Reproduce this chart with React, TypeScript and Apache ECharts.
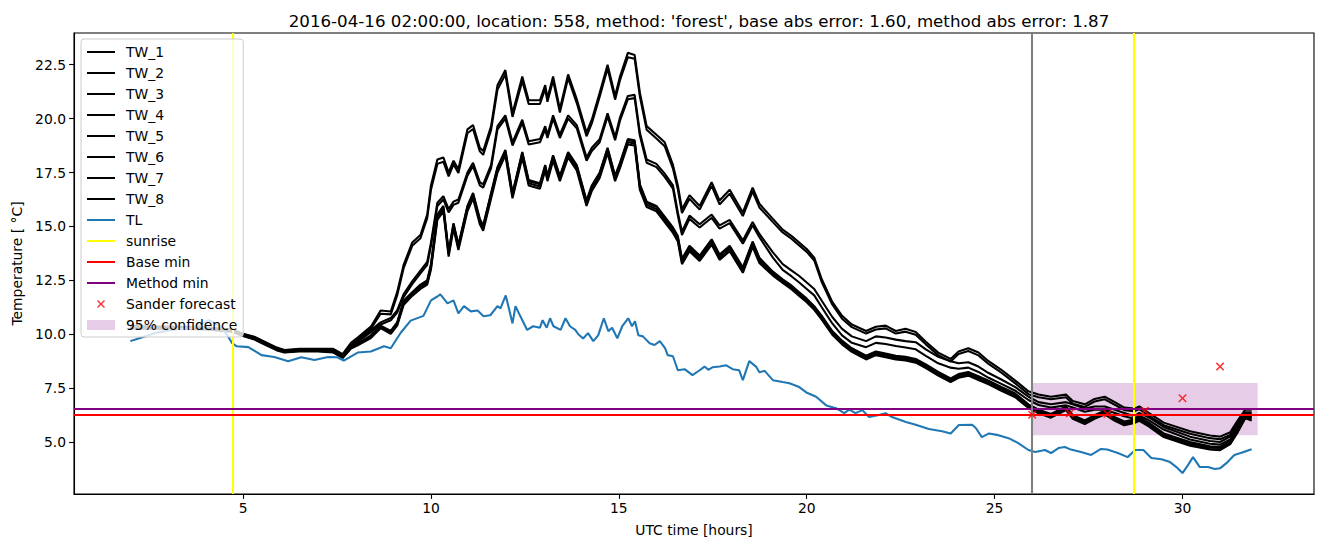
import React, { useEffect, useRef } from "react";
import * as echarts from "echarts";

const twNames = ["TW_1", "TW_2", "TW_3", "TW_4", "TW_5", "TW_6", "TW_7", "TW_8"];

const twTime = [
  2.0, 3.0, 4.0, 4.7, 5.0, 5.3, 5.6, 5.9, 6.1, 6.5,
  7.0, 7.4, 7.65, 7.87, 8.05, 8.4, 8.66, 8.93, 9.1, 9.27,
  9.5, 9.72, 9.9, 10.0, 10.17, 10.33, 10.47, 10.6, 10.73, 10.97,
  11.12, 11.3, 11.39, 11.6, 11.77, 11.98, 12.17, 12.43, 12.6, 12.9,
  13.04, 13.1, 13.25, 13.43, 13.65, 13.88, 14.14, 14.28, 14.49, 14.7,
  14.9, 15.03, 15.24, 15.42, 15.56, 15.74, 16.0, 16.22, 16.44, 16.57,
  16.68, 16.88, 17.15, 17.47, 17.68, 17.95, 18.3, 18.56, 18.74, 19.1,
  19.36, 19.6, 19.8, 20.0, 20.2, 20.4, 20.68, 20.94, 21.2, 21.58,
  21.84, 22.1, 22.37, 22.63, 22.9, 23.17, 23.5, 23.83, 24.04, 24.3,
  24.57, 24.84, 25.18, 25.55, 25.9, 26.17, 26.5, 26.9, 27.08, 27.4,
  27.66, 27.93, 28.2, 28.45, 28.72, 28.85, 29.1, 29.5, 30.2, 30.73,
  31.0, 31.27, 31.45, 31.67, 31.84,
];

const tw1 = [
  10.38, 10.36, 10.32, 10.22, 10.02, 9.88, 9.63, 9.38, 9.27, 9.32,
  9.32, 9.32, 9.08, 9.6, 9.85, 10.35, 11.1, 11.05, 11.95, 13.2,
  14.25, 14.6, 15.55, 16.9, 18.1, 18.2, 17.5, 18.05, 17.65, 19.5,
  19.7, 18.65, 18.5, 19.65, 21.55, 22.25, 20.25, 21.95, 20.85, 20.85,
  21.55, 20.95, 21.95, 20.45, 22.05, 20.9, 19.35, 19.95, 21.2, 22.5,
  21.05, 21.95, 23.05, 22.95, 21.2, 19.65, 19.25, 18.9, 17.85, 16.9,
  15.8, 16.45, 15.95, 17.05, 16.2, 16.7, 15.65, 16.8, 16.05, 15.35,
  14.85, 14.55, 14.25, 13.95, 13.55, 12.55, 11.5, 10.85, 10.45, 10.15,
  10.35, 10.4, 10.15, 10.25, 10.1, 9.65, 9.15, 8.85, 9.2, 9.35,
  9.15, 8.75, 8.35, 7.85, 7.35, 7.2, 7.1, 7.2, 6.9, 6.75,
  7.0, 7.1, 6.85, 6.6, 6.55, 6.65, 6.35, 5.9, 5.5, 5.3,
  5.25, 5.45, 5.95, 6.5, 6.5,
];
const tw2 = [
  10.35, 10.33, 10.3, 10.2, 10.0, 9.85, 9.6, 9.35, 9.24, 9.3,
  9.3, 9.28, 9.04, 9.52, 9.76, 10.25, 10.95, 10.92, 11.8, 13.05,
  14.1, 14.45, 15.38, 16.7, 17.9, 18.0, 17.32, 17.88, 17.48, 19.32,
  19.52, 18.48, 18.32, 19.48, 21.35, 22.05, 20.08, 21.75, 20.68, 20.68,
  21.38, 20.78, 21.78, 20.28, 21.88, 20.72, 19.18, 19.78, 21.02, 22.32,
  20.88, 21.78, 22.85, 22.78, 21.02, 19.48, 19.08, 18.72, 17.68, 16.72,
  15.62, 16.28, 15.78, 16.88, 16.02, 16.52, 15.48, 16.62, 15.88, 15.2,
  14.72, 14.42, 14.12, 13.82, 13.42, 12.42, 11.38, 10.72, 10.33, 10.03,
  10.22, 10.27, 10.03, 10.12, 9.98, 9.53, 9.03, 8.73, 9.08, 9.22,
  9.02, 8.62, 8.22, 7.72, 7.22, 7.08, 6.98, 7.08, 6.78, 6.63,
  6.88, 6.98, 6.73, 6.48, 6.43, 6.53, 6.23, 5.78, 5.38, 5.18,
  5.13, 5.33, 5.83, 6.38, 6.38,
];
const tw3 = [
  10.35, 10.32, 10.3, 10.2, 10.0, 9.85, 9.6, 9.35, 9.22, 9.28,
  9.28, 9.25, 9.0, 9.45, 9.7, 10.18, 10.55, 10.75, 11.1, 11.85,
  12.45, 12.95, 13.35, 14.25, 16.1, 16.4, 15.8, 16.15, 16.25, 17.5,
  17.95, 17.05, 16.95, 17.85, 19.65, 20.15, 18.9, 19.95, 18.95, 19.05,
  19.65, 19.25, 20.15, 19.25, 20.15, 19.7, 18.2, 18.65, 19.05, 20.25,
  19.15, 20.05, 21.05, 21.1, 19.35, 18.1, 17.9, 17.45, 16.9, 15.65,
  14.75, 15.5, 15.1, 15.55, 15.05, 15.3, 14.35, 15.2, 14.65, 13.8,
  13.25, 12.95, 12.7, 12.4, 12.1, 11.55, 10.8, 10.25, 9.9, 9.68,
  9.9, 9.85, 9.75, 9.68, 9.63, 9.3, 8.95, 8.75, 8.65, 8.7,
  8.5, 8.2, 7.9, 7.55, 7.1, 6.85, 6.75, 6.85, 6.75, 6.55,
  6.65, 6.65, 6.5, 6.35, 6.2, 6.35, 6.15, 5.7, 5.25, 5.05,
  5.0, 5.25, 5.75, 6.35, 6.35,
];
const tw4 = [
  10.32, 10.3, 10.27, 10.17, 9.97, 9.82, 9.57, 9.32, 9.2, 9.26,
  9.26, 9.23, 8.98, 9.42, 9.65, 10.1, 10.45, 10.65, 11.0, 11.72,
  12.32, 12.82, 13.22, 14.1, 15.95, 16.25, 15.65, 16.0, 16.1, 17.35,
  17.8, 16.9, 16.8, 17.7, 19.5, 20.0, 18.75, 19.8, 18.8, 18.9,
  19.5, 19.1, 20.0, 19.1, 20.0, 19.55, 18.05, 18.5, 18.9, 20.1,
  19.0, 19.9, 20.9, 20.95, 19.2, 17.95, 17.75, 17.3, 16.75, 15.5,
  14.6, 15.35, 14.95, 15.4, 14.9, 15.15, 14.2, 15.05, 14.5, 13.55,
  12.98, 12.68, 12.4, 12.1, 11.8, 11.25, 10.5, 9.95, 9.6, 9.4,
  9.6, 9.55, 9.45, 9.38, 9.3, 9.0, 8.65, 8.45, 8.4, 8.45,
  8.25, 7.98, 7.7, 7.38, 6.95, 6.72, 6.6, 6.7, 6.6, 6.4,
  6.5, 6.5, 6.35, 6.2, 6.08, 6.22, 6.02, 5.58, 5.12, 4.92,
  4.88, 5.12, 5.62, 6.22, 6.22,
];
const tw5 = [
  10.3, 10.3, 10.26, 10.16, 9.96, 9.8, 9.55, 9.3, 9.2, 9.25,
  9.25, 9.2, 8.95, 9.4, 9.58, 9.95, 10.4, 10.15, 10.55, 11.55,
  11.95, 12.3, 12.5, 13.25, 15.55, 15.95, 13.85, 15.15, 14.15, 15.95,
  16.55, 15.35, 15.05, 16.55, 17.75, 18.55, 16.55, 18.45, 17.15, 17.0,
  17.85, 17.35, 18.3, 17.35, 18.45, 17.85, 16.2, 16.9, 17.5, 18.65,
  17.35, 17.95, 19.05, 19.0, 16.95, 16.15, 15.95, 15.45, 14.95, 14.55,
  13.5, 14.1, 13.65, 14.4, 13.7, 14.1, 13.1, 14.3, 13.55, 12.9,
  12.55, 12.25, 11.95, 11.65, 11.3, 10.85, 10.15, 9.7, 9.35, 9.0,
  9.2, 9.1, 9.0, 8.95, 8.85, 8.6, 8.25, 7.95, 8.15, 8.25,
  8.05, 7.85, 7.55, 7.25, 6.75, 6.5, 6.3, 6.65, 6.25, 6.0,
  6.25, 6.45, 6.15, 5.95, 6.05, 6.15, 5.9, 5.4, 5.0, 4.8,
  4.77, 5.05, 5.55, 6.25, 6.15,
];
const tw6 = [
  10.28, 10.27, 10.24, 10.14, 9.93, 9.78, 9.52, 9.28, 9.17, 9.23,
  9.22, 9.18, 8.92, 9.36, 9.52, 9.88, 10.32, 10.08, 10.45, 11.42,
  11.85, 12.18, 12.38, 13.1, 15.4, 15.8, 13.7, 15.0, 14.0, 15.8,
  16.4, 15.2, 14.9, 16.4, 17.6, 18.4, 16.4, 18.3, 17.0, 16.85,
  17.7, 17.2, 18.15, 17.2, 18.3, 17.7, 16.05, 16.75, 17.35, 18.5,
  17.2, 17.8, 18.9, 18.85, 16.8, 16.0, 15.8, 15.3, 14.8, 14.4,
  13.35, 13.95, 13.5, 14.25, 13.55, 13.95, 12.95, 14.15, 13.4, 12.78,
  12.43, 12.13, 11.83, 11.53, 11.18, 10.73, 10.03, 9.58, 9.23, 8.88,
  9.08, 8.98, 8.88, 8.83, 8.73, 8.48, 8.13, 7.83, 8.03, 8.13,
  7.93, 7.73, 7.43, 7.13, 6.63, 6.38, 6.18, 6.53, 6.13, 5.88,
  6.13, 6.33, 6.03, 5.83, 5.93, 6.03, 5.78, 5.28, 4.88, 4.68,
  4.65, 4.93, 5.43, 6.13, 6.03,
];
const tw7 = [
  10.3, 10.28, 10.25, 10.15, 9.95, 9.8, 9.55, 9.3, 9.19, 9.24,
  9.24, 9.2, 8.94, 9.38, 9.55, 9.9, 10.35, 10.1, 10.5, 11.48,
  11.9, 12.25, 12.45, 13.2, 15.5, 15.9, 13.8, 15.1, 14.1, 15.9,
  16.5, 15.3, 15.0, 16.5, 17.7, 18.5, 16.5, 18.4, 17.1, 16.95,
  17.8, 17.3, 18.25, 17.3, 18.4, 17.8, 16.15, 16.85, 17.45, 18.6,
  17.3, 17.9, 19.0, 18.95, 16.9, 16.1, 15.9, 15.4, 14.9, 14.5,
  13.45, 14.05, 13.6, 14.35, 13.65, 14.05, 13.05, 14.25, 13.5, 12.85,
  12.5, 12.2, 11.9, 11.6, 11.25, 10.8, 10.1, 9.65, 9.3, 8.95,
  9.15, 9.05, 8.95, 8.9, 8.8, 8.55, 8.2, 7.9, 8.1, 8.2,
  8.0, 7.8, 7.5, 7.2, 6.7, 6.45, 6.25, 6.6, 6.2, 5.95,
  6.2, 6.4, 6.1, 5.9, 6.0, 6.1, 5.85, 5.35, 4.95, 4.75,
  4.72, 5.0, 5.5, 6.2, 6.1,
];
const tw8 = [
  10.26, 10.25, 10.22, 10.12, 9.92, 9.76, 9.5, 9.25, 9.15, 9.2,
  9.2, 9.15, 8.9, 9.33, 9.48, 9.82, 10.28, 10.02, 10.4, 11.35,
  11.78, 12.1, 12.3, 13.0, 15.3, 15.7, 13.6, 14.9, 13.9, 15.7,
  16.3, 15.1, 14.8, 16.3, 17.5, 18.3, 16.3, 18.2, 16.9, 16.75,
  17.6, 17.1, 18.05, 17.1, 18.2, 17.6, 15.95, 16.65, 17.25, 18.4,
  17.1, 17.7, 18.8, 18.75, 16.7, 15.9, 15.7, 15.2, 14.7, 14.3,
  13.25, 13.85, 13.4, 14.15, 13.45, 13.85, 12.85, 14.05, 13.3, 12.72,
  12.38, 12.08, 11.78, 11.48, 11.13, 10.68, 9.98, 9.53, 9.18, 8.83,
  9.03, 8.93, 8.83, 8.78, 8.68, 8.43, 8.08, 7.78, 7.98, 8.08,
  7.88, 7.68, 7.38, 7.08, 6.58, 6.33, 6.13, 6.48, 6.08, 5.83,
  6.08, 6.28, 5.98, 5.78, 5.88, 5.98, 5.73, 5.23, 4.83, 4.65,
  4.62, 4.9, 5.4, 6.1, 6.0,
];
const twValues = [tw1, tw2, tw3, tw4, tw5, tw6, tw7, tw8];

const tlTime = [
  2.0, 2.3, 2.65, 3.1, 3.55, 3.85, 4.08, 4.25, 4.43, 4.6,
  4.7, 4.83, 5.14, 5.49, 5.83, 6.2, 6.55, 6.9, 7.26, 7.5,
  7.68, 8.05, 8.4, 8.75, 8.93, 9.2, 9.46, 9.8, 10.0, 10.17,
  10.25, 10.44, 10.6, 10.73, 10.88, 11.06, 11.24, 11.4, 11.58, 11.77,
  11.85, 11.99, 12.17, 12.25, 12.38, 12.56, 12.72, 12.9, 12.97, 13.08,
  13.17, 13.26, 13.45, 13.58, 13.7, 13.84, 13.92, 14.05, 14.18, 14.32,
  14.45, 14.6, 14.72, 14.82, 14.96, 15.09, 15.25, 15.35, 15.43, 15.52,
  15.64, 15.82, 15.95, 16.09, 16.23, 16.3, 16.44, 16.57, 16.75, 16.96,
  17.15, 17.28, 17.38, 17.5, 17.68, 17.86, 18.03, 18.2, 18.3, 18.47,
  18.65, 18.74, 18.88, 19.1, 19.36, 19.54, 19.8, 19.99, 20.25, 20.52,
  20.78, 21.0, 21.13, 21.3, 21.48, 21.66, 21.92, 22.1, 22.27, 22.64,
  22.9, 23.25, 23.6, 23.83, 24.05, 24.4, 24.5, 24.66, 24.85, 25.1,
  25.37, 25.63, 25.9, 26.08, 26.34, 26.5, 26.7, 26.87, 27.03, 27.3,
  27.57, 27.83, 28.0, 28.28, 28.54, 28.74, 28.96, 29.17, 29.44, 29.67,
  29.83, 30.0, 30.15, 30.28, 30.46, 30.68, 30.86, 31.0, 31.2, 31.38,
  31.57, 31.84,
];
const tlTemp = [
  9.68, 9.85, 10.05, 10.2, 10.28, 10.4, 10.65, 10.5, 10.3, 9.9,
  9.6, 9.44, 9.4, 9.03, 8.94, 8.75, 8.93, 8.8, 8.94, 8.93,
  8.78, 9.15, 9.2, 9.44, 9.35, 10.08, 10.63, 10.85, 11.57, 11.75,
  11.85, 11.43, 11.57, 10.97, 11.3, 11.06, 11.1, 10.83, 10.88, 11.3,
  11.2, 11.8, 10.5, 11.3, 10.83, 10.2, 10.37, 10.3, 10.65, 10.3,
  10.74, 10.37, 10.2, 10.74, 10.37, 10.2, 10.0, 9.8, 10.05, 9.68,
  9.95, 10.74, 10.14, 10.3, 9.81, 10.37, 10.74, 10.37, 10.6, 9.95,
  9.9, 9.58, 9.5, 9.68, 9.35, 9.03, 8.98, 8.33, 8.38, 8.1,
  8.33, 8.5, 8.35, 8.47, 8.5, 8.56, 8.38, 8.33, 7.87, 8.75,
  8.5, 8.24, 8.3, 7.87, 7.78, 7.73, 7.55, 7.3, 7.1, 6.7,
  6.57, 6.34, 6.5, 6.34, 6.48, 6.16, 6.25, 6.34, 6.16, 5.93,
  5.8, 5.6, 5.5, 5.4, 5.79, 5.8, 5.65, 5.23, 5.4, 5.32,
  5.18, 4.95, 4.63, 4.54, 4.63, 4.49, 4.72, 4.77, 4.65, 4.54,
  4.4, 4.68, 4.65, 4.49, 4.3, 4.63, 4.63, 4.26, 4.2, 4.07,
  3.85, 3.56, 3.94, 4.3, 3.84, 3.84, 3.75, 3.78, 4.07, 4.4,
  4.5, 4.67,
];

const sanderTime = [26, 27, 28, 29, 30, 31];
const sanderTemp = [6.27, 6.33, 6.3, 6.45, 7.03, 8.5];

const sunriseTimes = [4.73, 28.7];
const forecastStart = 26;
const baseMin = 6.28;
const methodMin = 6.55;
const bandStart = 26;
const bandEnd = 32;
const bandLow = 5.32;
const bandHigh = 7.74;

const xTicks = [5, 10, 15, 20, 25, 30];
const yTicks = [5, 7.5, 10, 12.5, 15, 17.5, 20, 22.5];

const titleText =
  "2016-04-16 02:00:00, location: 558, method: 'forest', base abs error: 1.60, method abs error: 1.87";

const FONT = "DejaVu Sans";
const FS = 13.89;
const LW = 2.08;
const xPath =
  "path://M0,1 L1,0 L4,3 L7,0 L8,1 L5,4 L8,7 L7,8 L4,5 L1,8 L0,7 L3,4 Z";
const CORNERS = "M0,0 L0.01,0 L0,0.01 Z M28,14 L27.99,14 L28,13.99 Z ";
const xLegendIcon =
  "path://" + CORNERS + "M10,4 L11,3 L14,6 L17,3 L18,4 L15,7 L18,10 L17,11 L14,8 L11,11 L10,10 L13,7 Z";
const bandLegendIcon = "path://" + CORNERS + "M0,2 L28,2 L28,12 L0,12 Z";
const lineLegendIcon = "path://" + CORNERS + "M0,6 L28,6 L28,8 L0,8 Z";

export default function App() {
  const ref = useRef<HTMLDivElement>(null);

  useEffect(() => {
    if (!ref.current) return;
    const chart = echarts.init(ref.current, undefined, { renderer: "svg" });

    const twSeries = twNames.map((name, i) => ({
      type: "line",
      name,
      data: twTime.map((t, j) => [t, twValues[i][j]]),
      showSymbol: false,
      symbol: "none",
      color: "#000000",
      lineStyle: { color: "#000000", width: LW },
      z: 3,
      silent: true,
    }));

    const hiddenLine = (name: string, color: string, mark: any, z: number) => ({
      type: "line",
      name,
      data: [],
      symbol: "none",
      color,
      lineStyle: { color, width: LW },
      z,
      silent: true,
      markLine: {
        silent: true,
        symbol: ["none", "none"],
        label: { show: false },
        emphasis: { disabled: true },
        lineStyle: { color, width: LW, type: "solid" },
        data: mark,
      },
    });

    const lineItem = (name: string, color: string) => ({
      name,
      icon: lineLegendIcon,
      itemStyle: { color },
    });

    const option: any = {
      animation: false,
      backgroundColor: "#ffffff",
      textStyle: { fontFamily: FONT },
      title: {
        text: titleText,
        left: 694,
        top: 8,
        textAlign: "center",
        textStyle: { fontFamily: FONT, fontSize: 16.67, fontWeight: "normal", color: "#000" },
      },
      grid: {
        left: 74,
        right: 10,
        top: 33,
        bottom: 53,
        containLabel: false,
        show: true,
        borderColor: "#000",
        borderWidth: 1.1,
        backgroundColor: "transparent",
      },
      legend: {
        orient: "vertical",
        left: 81,
        top: 39,
        z: 20,
        selectedMode: false,
        backgroundColor: "rgba(255,255,255,0.8)",
        borderColor: "#cccccc",
        borderWidth: 1,
        borderRadius: 3,
        padding: [6, 6, 5, 6],
        itemWidth: 28,
        itemHeight: 14,
        itemGap: 7,
        symbolKeepAspect: false,
        textStyle: {
          fontFamily: FONT,
          fontSize: FS,
          color: "#000",
          lineHeight: 14,
          padding: [0, 0, 0, 6],
        },
        data: [
          ...twNames.map((n) => lineItem(n, "#000000")),
          lineItem("TL", "#1f77b4"),
          lineItem("sunrise", "#ffff00"),
          lineItem("Base min", "#ff0000"),
          lineItem("Method min", "#800080"),
          { name: "Sander forecast", icon: xLegendIcon, itemStyle: { color: "#ff0000" } },
          { name: "95% confidence", icon: bandLegendIcon, itemStyle: { color: "#e6cce6" } },
        ],
      },
      xAxis: {
        type: "value",
        min: 0.5,
        max: 33.5,
        name: "UTC time [hours]",
        nameLocation: "middle",
        nameGap: 29,
        nameTextStyle: { fontFamily: FONT, fontSize: FS, color: "#000" },
        axisLine: { show: true, lineStyle: { color: "#000", width: 1.1 } },
        axisTick: {
          show: true,
          inside: false,
          length: 4.9,
          lineStyle: { color: "#000", width: 1.1 },
          customValues: xTicks,
        },
        axisLabel: {
          show: true,
          customValues: xTicks,
          margin: 7,
          fontFamily: FONT,
          fontSize: FS,
          color: "#000",
          formatter: (v: number) => String(v),
        },
        splitLine: { show: false },
      },
      yAxis: {
        type: "value",
        min: 2.59,
        max: 23.97,
        name: "Temperature [ °C]",
        nameLocation: "middle",
        nameGap: 49,
        nameTextStyle: { fontFamily: FONT, fontSize: FS, color: "#000" },
        axisLine: { show: true, lineStyle: { color: "#000", width: 1.1 } },
        axisTick: {
          show: true,
          inside: false,
          length: 4.9,
          lineStyle: { color: "#000", width: 1.1 },
          customValues: yTicks,
        },
        axisLabel: {
          show: true,
          customValues: yTicks,
          margin: 8,
          fontFamily: FONT,
          fontSize: FS,
          color: "#000",
          formatter: (v: number) => v.toFixed(1),
        },
        splitLine: { show: false },
      },
      series: [
        {
          type: "custom",
          name: "95% confidence",
          z: 1,
          silent: true,
          itemStyle: { color: "#e6cce6" },
          encode: { x: [0, 1], y: [2, 3] },
          data: [[bandStart, bandEnd, bandLow, bandHigh]],
          renderItem: (params: any, api: any) => {
            const p0 = api.coord([api.value(0), api.value(3)]);
            const p1 = api.coord([api.value(1), api.value(2)]);
            return {
              type: "rect",
              shape: { x: p0[0], y: p0[1], width: p1[0] - p0[0], height: p1[1] - p0[1] },
              style: { fill: "#e6cce6" },
            };
          },
        },
        ...twSeries,
        {
          type: "line",
          name: "TL",
          data: tlTime.map((t, j) => [t, tlTemp[j]]),
          showSymbol: false,
          symbol: "none",
          color: "#1f77b4",
          lineStyle: { color: "#1f77b4", width: LW },
          z: 4,
          silent: true,
        },
        hiddenLine("sunrise", "#ffff00", sunriseTimes.map((t) => ({ xAxis: t })), 5),
        hiddenLine("Base min", "#ff0000", [{ yAxis: baseMin }], 5),
        hiddenLine("Method min", "#800080", [{ yAxis: methodMin }], 5),
        hiddenLine("forecast start", "#808080", [{ xAxis: forecastStart }], 5),
        {
          type: "scatter",
          name: "Sander forecast",
          data: sanderTime.map((t, j) => [t, sanderTemp[j]]),
          symbol: xPath,
          symbolSize: 8.5,
          color: "#ff0000",
          itemStyle: { color: "#ff0000" },
          z: 6,
          silent: true,
        },
      ],
    };

    chart.setOption(option);
    return () => {
      chart.dispose();
    };
  }, []);

  return (
    <div
      ref={ref}
      style={{ position: "fixed", left: 0, top: 0, width: 1324, height: 547 }}
    />
  );
}
